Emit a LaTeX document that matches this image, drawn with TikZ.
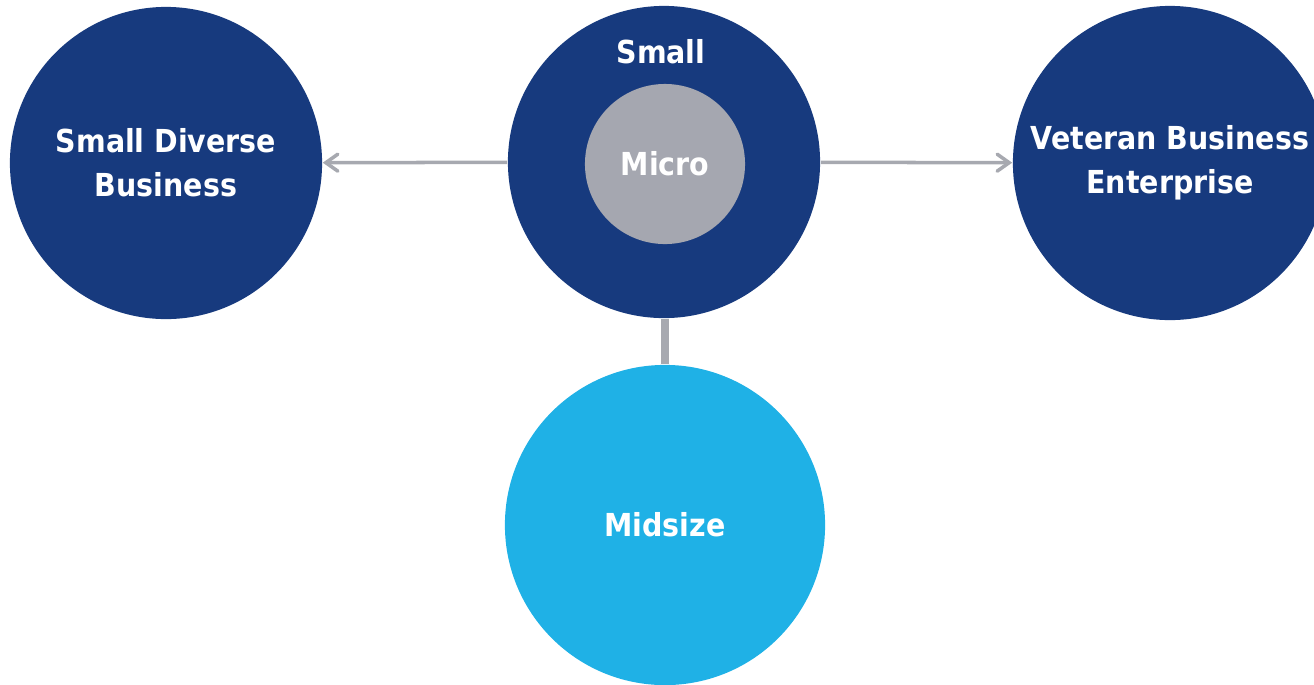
\documentclass[tikz,border=0pt]{standalone}
\usepackage{fontspec}
\setmainfont{DejaVu Sans Condensed}
\usetikzlibrary{arrows.meta}
\definecolor{navy}{RGB}{23,58,126}
\definecolor{sky}{RGB}{31,177,230}
\definecolor{micro}{RGB}{165,167,176}
\definecolor{link}{RGB}{167,169,176}
\tikzset{
  bubble/.style={circle, fill=navy, text=white, inner sep=0pt, align=center,
    font=\bfseries\fontsize{9pt}{12.5pt}\selectfont},
  link/.style={draw=link, line width=1pt}
}
\begin{document}
\begin{tikzpicture}[x=0.01cm, y=-0.01cm]
      \useasboundingbox (0,0) rectangle (1314,684);
      \draw
        (166,163) node[bubble, minimum size=3.12cm] (sdb){Small Diverse\\Business}
        (664,162) node[bubble, minimum size=3.12cm] (small){}
        (1170,163) node[bubble, minimum size=3.14cm] (vbe){Veteran Business\\Enterprise}
        (665,525) node[bubble, fill=sky, minimum size=3.2cm] (midsize){Midsize}
        (665,164) node[bubble, fill=micro, minimum size=1.6cm] (micro){Micro}
        (661,63) node[bubble, fill=none, anchor=base] (smalllabel){Small};
      \begin{scope}[link, -{Straight Barb[length=1.2mm, width=1.7mm, line cap=round]}]
        \draw (small) to (sdb);
        \draw (small) to (vbe);
      \end{scope}
      \draw[link, line width=2pt] (midsize.north) to (midsize.north |- small.south);
    \end{tikzpicture}
\end{document}
